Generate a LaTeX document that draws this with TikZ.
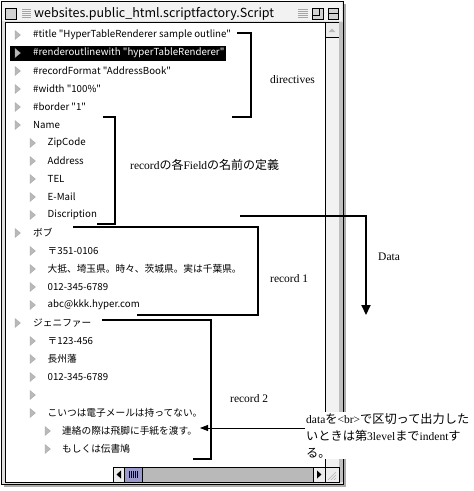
\documentclass[tikz,border=0pt]{standalone}
\usepackage{fontspec}
\newfontfamily\jafont{Noto Sans CJK JP}
\newfontfamily\annofont{Liberation Serif}
\usetikzlibrary{arrows.meta,positioning,calc}

\definecolor{thumbblue}{RGB}{153,153,204}
\newcommand\jan[1]{{\jafont\fontsize{12}{14}\selectfont #1}}
\newcommand\jnote[1]{{\jafont\fontsize{12.2}{17}\selectfont #1}}

\tikzset{
  row/.style={anchor=west, inner sep=0pt, font=\jafont\fontsize{9.7}{11}\selectfont},
  anno/.style={anchor=west, inner sep=0pt, font=\annofont\fontsize{11.5}{17}\selectfont},
  bracket/.style={line width=2pt},
  twisty/.style={fill=gray!55, draw=gray!70, line width=0.3pt},
  sbox/.style={draw, line width=0.6pt, fill=gray!15},
}

\begin{document}
\begin{tikzpicture}[x=1pt,y=-1pt]
  \useasboundingbox (0,0) rectangle (474,491);

  % window frame
  \fill[gray!65] (4,4) rectangle (346,487);
  \draw[fill=gray!25, line width=0.8pt] (1,1) rectangle (343,484);
  \fill[gray!10] (2,2) rectangle (342,21);
  \draw[fill=white, line width=0.6pt] (5,22) rectangle (339,482);

  % title bar
  \draw[fill=gray!35, line width=0.6pt] (5,8) rectangle (16,19);
  \foreach \yy in {9,11,13,15,17} {
    \draw[gray!70, line width=0.6pt] (22,\yy) -- (31,\yy);
    \draw[gray!70, line width=0.6pt] (298,\yy) -- (308,\yy);
  }
  \node[anchor=west, inner sep=0pt, font=\jafont\fontsize{12.5}{14}\selectfont] (title) at (34,13.5)
    {websites.public\_html.scriptfactory.Script};
  \draw[fill=gray!35, line width=0.6pt] (312,8) rectangle (323,19);
  \draw[line width=0.6pt] (312,8) rectangle (319,15);
  \draw[fill=gray!35, line width=0.6pt] (328,8) rectangle (338,19);
  \draw[line width=0.6pt] (328,13.5) -- (338,13.5);

  % vertical scroll bar
  \draw[fill=gray!10, line width=0.6pt] (325,22) rectangle (339,467);
  \draw[sbox] (325,22) rectangle (339,37);
  \fill[gray!55] (328.5,32) -- (335.5,32) -- (332,28.5) -- cycle;
  \fill[gray!50] (339.3,22) rectangle (342.5,482);

  % horizontal scroll bar
  \draw[sbox] (113,467) rectangle (124,482);
  \fill (121,470.5) -- (121,478.5) -- (116.5,474.5) -- cycle;
  \draw[fill=thumbblue, line width=0.6pt] (124,467) rectangle (142,482);
  \foreach \xx in {129,131,133,135,137}
    \draw[line width=0.5pt] (\xx,471) -- (\xx,478);
  \draw[fill=gray!55, line width=0.6pt] (142,467) rectangle (313,482);
  \draw[sbox] (313,467) rectangle (325,482);
  \fill (317,470.5) -- (317,478.5) -- (321.5,474.5) -- cycle;
  \draw[sbox] (325,467) rectangle (339,482);
  \foreach \dd in {0,3,6}
    \draw[gray!60, line width=0.6pt] (328+\dd,480) -- (336,472+\dd);

  % selected row
  \fill (10,46) rectangle (226,61);

  % outline rows
  \foreach \lv/\col/\txt [count=\i] in {
      0/black/{\#title "HyperTableRenderer sample outline"},
      0/white/{\#renderoutlinewith "hyperTableRenderer"},
      0/black/{\#recordFormat "AddressBook"},
      0/black/{\#width "100\%"},
      0/black/{\#border "1"},
      0/black/{Name},
      1/black/{ZipCode},
      1/black/{Address},
      1/black/{TEL},
      1/black/{E-Mail},
      1/black/{Discription},
      0/black/{ボブ},
      1/black/{〒351-0106},
      1/black/{大抵、埼玉県。時々、茨城県。実は千葉県。},
      1/black/{012-345-6789},
      1/black/{abc@kkk.hyper.com},
      0/black/{ジェニファー},
      1/black/{〒123-456},
      1/black/{長州藩},
      1/black/{012-345-6789},
      1/black/{},
      1/black/{こいつは電子メールは持ってない。},
      2/black/{連絡の際は飛脚に手紙を渡す。},
      2/black/{もしくは伝書鳩}} {
    \pgfmathsetmacro\yy{35+18*(\i-1)}
    \pgfmathsetmacro\tx{15+15*\lv}
    \fill[twisty] (\tx,\yy-4.5) -- ++(0,9) -- ++(5.5,-4.5) -- cycle;
    \node[row, text=\col] (r\i) at (33+14.5*\lv,\yy) {\txt};
  }

  % directives
  \draw[bracket] (237,33) -- (251,33) -- (251,117) -- (232,117);
  \node[anno] (directives) at (270,80) {directives};

  % field names
  \draw[bracket] (103,117) -- (115,117) -- (115,224) -- (97,224);
  \node[anno] (fields) at (130,165) {record\jan{の各}Field\jan{の名前の定義}};

  % data direction
  \coordinate (datastart) at (240,216);
  \coordinate (dataend) at (366,315);
  \draw[line width=2pt, -{Triangle[width=9pt,length=10pt]}] (datastart) -| (dataend);
  \node[anno] (data) at (378,257) {Data};

  % record 1
  \draw[bracket] (73,227) -- (258,227) -- (258,315) -- (137,315);
  \node[anno] (rec1) at (270,279) {record 1};

  % record 2
  \draw[bracket] (102,320) -- (211,320) -- (211,459) -- (193,459);
  \node[anno] (rec2) at (230,399) {record 2};

  % note on <br>
  \node[anno, fill=white, inner sep=1pt, anchor=north west, align=left] (note) at (305,412)
    {data\jnote{を}<br>\jnote{で区切って出力した}\\
     \jnote{いときは第}3level\jnote{まで}indent\jnote{す}\\
     \jnote{る。}};
  \coordinate (notetip) at (200,428);
  \draw[line width=0.8pt, -{Triangle[width=6pt,length=8pt]}] (note.west |- notetip) -- (notetip);

\end{tikzpicture}
\end{document}
